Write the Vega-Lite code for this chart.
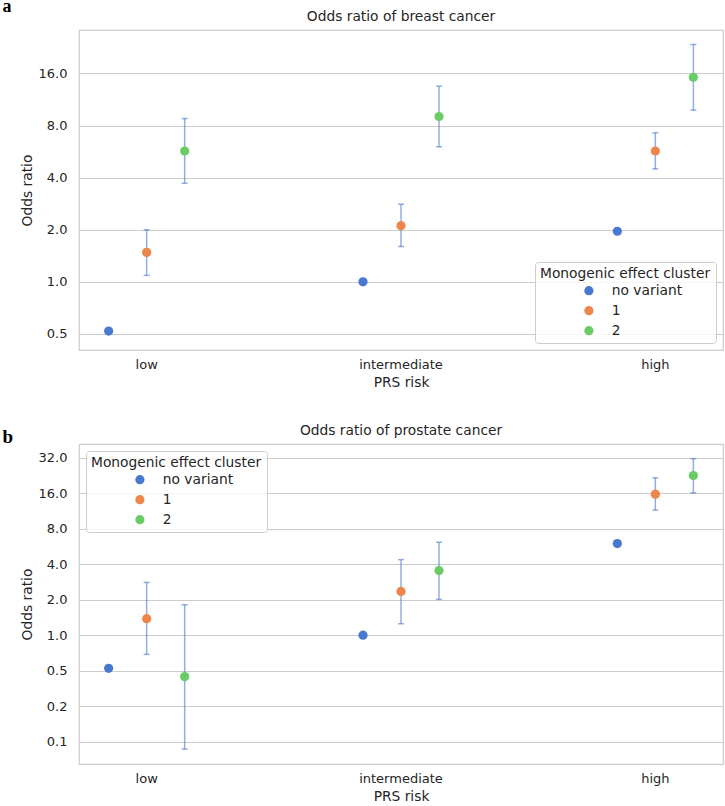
{
  "$schema": "https://vega.github.io/schema/vega-lite/v6.json",
  "padding": {"left": 2, "top": -3, "right": 2, "bottom": 0},
  "background": "white",
  "config": {
    "font": "DejaVu Sans",
    "view": {"stroke": "#cccccc", "strokeWidth": 1.2},
    "axis": {
      "labelColor": "#262626", "titleColor": "#262626",
      "labelFontSize": 13, "titleFontSize": 13.8, "titleFontWeight": "normal",
      "ticks": false, "domain": false,
      "gridColor": "#cccccc", "gridWidth": 1
    },
    "title": {"fontSize": 13.8, "fontWeight": "normal", "color": "#262626", "offset": 6}
  },
  "resolve": {"scale": {"color": "independent"}, "legend": {"color": "independent"}},
  "datasets": {
    "breast": [
      {"risk": "low", "cluster": "no variant", "or": 0.52, "lo": null, "hi": null},
      {"risk": "low", "cluster": "1", "or": 1.48, "lo": 1.09, "hi": 2.0},
      {"risk": "low", "cluster": "2", "or": 5.7, "lo": 3.71, "hi": 8.78},
      {"risk": "intermediate", "cluster": "no variant", "or": 1.0, "lo": null, "hi": null},
      {"risk": "intermediate", "cluster": "1", "or": 2.11, "lo": 1.6, "hi": 2.81},
      {"risk": "intermediate", "cluster": "2", "or": 9.02, "lo": 6.03, "hi": 13.5},
      {"risk": "high", "cluster": "no variant", "or": 1.96, "lo": null, "hi": null},
      {"risk": "high", "cluster": "1", "or": 5.7, "lo": 4.49, "hi": 7.26},
      {"risk": "high", "cluster": "2", "or": 15.2, "lo": 9.82, "hi": 23.5}
    ],
    "prostate": [
      {"risk": "low", "cluster": "no variant", "or": 0.523, "lo": 0.5, "hi": 0.55},
      {"risk": "low", "cluster": "1", "or": 1.38, "lo": 0.687, "hi": 2.8},
      {"risk": "low", "cluster": "2", "or": 0.445, "lo": 0.108, "hi": 1.81},
      {"risk": "intermediate", "cluster": "no variant", "or": 1.0, "lo": null, "hi": null},
      {"risk": "intermediate", "cluster": "1", "or": 2.35, "lo": 1.25, "hi": 4.37},
      {"risk": "intermediate", "cluster": "2", "or": 3.53, "lo": 2.01, "hi": 6.14},
      {"risk": "high", "cluster": "no variant", "or": 5.98, "lo": null, "hi": null},
      {"risk": "high", "cluster": "1", "or": 15.7, "lo": 11.5, "hi": 21.6},
      {"risk": "high", "cluster": "2", "or": 22.6, "lo": 16.1, "hi": 31.4}
    ]
  },
  "spacing": 33,
  "vconcat": [
    {
      "title": {"text": "a", "anchor": "start", "font": "Liberation Serif", "fontWeight": "bold", "fontSize": 18, "color": "#000000", "offset": -13, "dx": -17, "dy": -7},
      "resolve": {"scale": {"color": "independent"}, "legend": {"color": "independent"}},
      "vconcat": [
        {
          "width": 644, "height": 320,
          "title": "Odds ratio of breast cancer",
          "data": {"name": "breast"},
          "encoding": {
            "x": {"field": "risk", "type": "nominal", "sort": ["low", "intermediate", "high"],
                  "scale": {"paddingInner": 0.468, "paddingOuter": 0},
                  "axis": {"labelAngle": 0, "grid": false, "labelPadding": 8, "titlePadding": 4}, "title": "PRS risk"},
            "xOffset": {"field": "cluster", "type": "nominal", "sort": ["no variant", "1", "2"],
                        "scale": {"paddingInner": 0, "paddingOuter": 0.28}}
          },
          "layer": [
            {"mark": {"type": "rule", "color": "#4878d0", "opacity": 0.6, "strokeWidth": 1.5},
             "encoding": {"y": {"field": "lo", "type": "quantitative"}, "y2": {"field": "hi"}}},
            {"mark": {"type": "tick", "color": "#4878d0", "opacity": 0.6, "thickness": 1.5, "size": 6},
             "encoding": {"y": {"field": "lo", "type": "quantitative"}}},
            {"mark": {"type": "tick", "color": "#4878d0", "opacity": 0.6, "thickness": 1.5, "size": 6},
             "encoding": {"y": {"field": "hi", "type": "quantitative"}}},
            {"mark": {"type": "point", "filled": true, "opacity": 1, "size": 85},
             "encoding": {
               "y": {"field": "or", "type": "quantitative", "title": "Odds ratio",
                     "scale": {"type": "log", "domain": [0.404, 28.5], "nice": false},
                     "axis": {"values": [0.5, 1, 2, 4, 8, 16], "labelPadding": 12, "titlePadding": 4,
                              "labelExpr": "datum.value == 0.25 ? '0.2' : format(datum.value, '.1f')"}},
               "color": {"field": "cluster", "type": "nominal", "sort": ["no variant", "1", "2"],
                         "scale": {"domain": ["no variant", "1", "2"], "range": ["#4878d0", "#ee854a", "#6acc64"]},
                         "legend": {"title": "Monogenic effect cluster", "orient": "bottom-right", "offset": 7,
                                    "fillColor": "rgba(255,255,255,0.8)", "strokeColor": "#cccccc", "cornerRadius": 3,
                                    "padding": 5, "symbolOffset": 42, "labelOffset": 16, "rowPadding": 5,
                                    "symbolSize": 85, "symbolType": "circle", "symbolStrokeWidth": 0,
                                    "titleFontSize": 13.8, "titleFontWeight": "normal", "labelFontSize": 13.8,
                                    "titleColor": "#262626", "labelColor": "#262626", "titlePadding": 3}}
             }}
          ]
        }
      ]
    },
    {
      "title": {"text": "b", "anchor": "start", "font": "Liberation Serif", "fontWeight": "bold", "fontSize": 19, "color": "#000000", "offset": -19, "dx": -17, "dy": 4},
      "resolve": {"scale": {"color": "independent"}, "legend": {"color": "independent"}},
      "vconcat": [
        {
          "width": 644, "height": 320,
          "title": "Odds ratio of prostate cancer",
          "data": {"name": "prostate"},
          "encoding": {
            "x": {"field": "risk", "type": "nominal", "sort": ["low", "intermediate", "high"],
                  "scale": {"paddingInner": 0.468, "paddingOuter": 0},
                  "axis": {"labelAngle": 0, "grid": false, "labelPadding": 8, "titlePadding": 4}, "title": "PRS risk"},
            "xOffset": {"field": "cluster", "type": "nominal", "sort": ["no variant", "1", "2"],
                        "scale": {"paddingInner": 0, "paddingOuter": 0.28}}
          },
          "layer": [
            {"mark": {"type": "rule", "color": "#4878d0", "opacity": 0.6, "strokeWidth": 1.5},
             "encoding": {"y": {"field": "lo", "type": "quantitative"}, "y2": {"field": "hi"}}},
            {"mark": {"type": "tick", "color": "#4878d0", "opacity": 0.6, "thickness": 1.5, "size": 6},
             "encoding": {"y": {"field": "lo", "type": "quantitative"}}},
            {"mark": {"type": "tick", "color": "#4878d0", "opacity": 0.6, "thickness": 1.5, "size": 6},
             "encoding": {"y": {"field": "hi", "type": "quantitative"}}},
            {"mark": {"type": "point", "filled": true, "opacity": 1, "size": 85},
             "encoding": {
               "y": {"field": "or", "type": "quantitative", "title": "Odds ratio",
                     "scale": {"type": "log", "domain": [0.0808, 41.8], "nice": false},
                     "axis": {"values": [0.125, 0.25, 0.5, 1, 2, 4, 8, 16, 32], "labelPadding": 12, "titlePadding": 4,
                              "labelExpr": "datum.value == 0.25 ? '0.2' : format(datum.value, '.1f')"}},
               "color": {"field": "cluster", "type": "nominal", "sort": ["no variant", "1", "2"],
                         "scale": {"domain": ["no variant", "1", "2"], "range": ["#4878d0", "#ee854a", "#6acc64"]},
                         "legend": {"title": "Monogenic effect cluster", "orient": "top-left", "offset": 7,
                                    "fillColor": "rgba(255,255,255,0.8)", "strokeColor": "#cccccc", "cornerRadius": 3,
                                    "padding": 5, "symbolOffset": 42, "labelOffset": 16, "rowPadding": 5,
                                    "symbolSize": 85, "symbolType": "circle", "symbolStrokeWidth": 0,
                                    "titleFontSize": 13.8, "titleFontWeight": "normal", "labelFontSize": 13.8,
                                    "titleColor": "#262626", "labelColor": "#262626", "titlePadding": 3}}
             }}
          ]
        }
      ]
    }
  ]
}
